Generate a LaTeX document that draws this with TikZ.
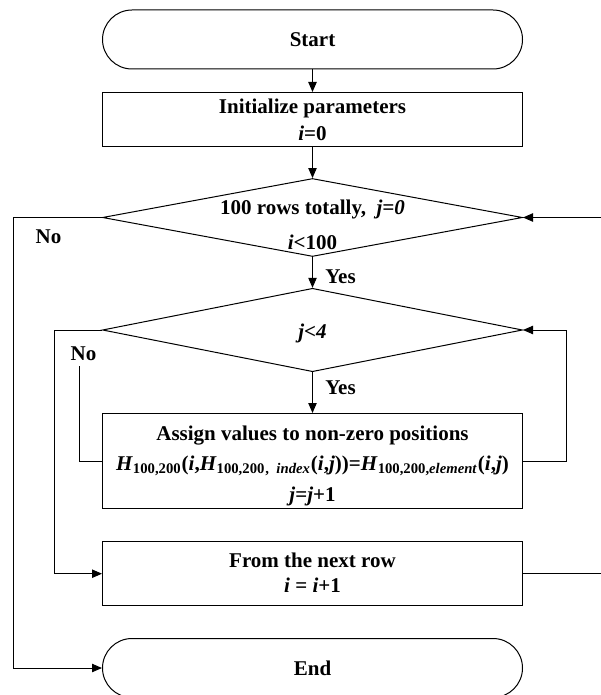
\documentclass[tikz,border=0pt]{standalone}
\usepackage{fontspec}
\setmainfont{Liberation Serif}
\usetikzlibrary{arrows.meta,shapes.geometric}

\begin{document}
\begin{tikzpicture}[x=0.5pt,y=-0.5pt,
  every node/.style={font=\fontsize{10.5}{13.5}\selectfont\bfseries},
  box/.style={draw, line width=0.5pt, minimum width=210pt, inner sep=0pt, align=center},
  term/.style={box, rounded corners=14.75pt, minimum height=29.5pt},
  decision/.style={draw, diamond, line width=0.5pt, minimum width=210pt, inner sep=0pt},
  flow/.style={line width=0.5pt, -{Triangle[length=5pt,width=4.2pt]}},
  link/.style={line width=0.5pt},
  lbl/.style={inner sep=0pt}
]
\useasboundingbox (0,0) rectangle (600,695);

% main column
\node[term] (start) at (312.5,39.5) {Start};
\node[box, minimum height=27pt] (init) at (312.5,119.5) {};
\node[lbl] (initA) at (312.5,108) {Initialize parameters};
\node[lbl] (initB) at (312.5,133.5) {\textit{i}=0};
\node[decision, minimum height=39pt] (rows) at (312.5,217.5) {};
\node[lbl] (rowsA) at (312.5,209) {100 rows totally,\ \ \textit{j=0}};
\node[lbl] (rowsB) at (312.5,242) {\textit{i}<100};
\node[decision, minimum height=41.7pt] (cols) at (312.5,330) {};
\node[lbl] (colsA) at (312.5,333) {\textit{j<4}};
\node[box, minimum height=47.5pt] (assign) at (312.5,461) {};
\node[lbl] (assignA) at (312.5,436) {Assign values to non-zero positions};
\node[lbl] (assignB) at (312.5,466)
  {\textit{H}\textsubscript{100,200}(\textit{i},\textit{H}\textsubscript{100,200}\textsubscript{,\,\,\,\textit{index}}(\textit{i},\textit{j}))=\textit{H}\textsubscript{100,200,\textit{element}}(\textit{i},\textit{j})};
\node[lbl] (assignC) at (312.5,496) {\textit{j}=\textit{j}+1};
\node[box, minimum height=32pt] (next) at (312.5,573.7) {};
\node[lbl] (nextA) at (312.5,560) {From the next row};
\node[lbl] (nextB) at (312.5,585) {\textit{i} = \textit{i}+1};
\node[term] (stop) at (312.5,668) {End};

% labels
\node[lbl] (yes1) at (340.5,277) {Yes};
\node[lbl] (yes2) at (340.5,388) {Yes};
\node[lbl] (no1) at (48.5,237) {No};
\node[lbl] (no2) at (83.5,354) {No};

% straight flow
\draw[flow] (start) -- (init);
\draw[flow] (init) -- (rows);
\draw[flow] (rows) -- (cols);
\draw[flow] (cols) -- (assign);

% inner loop back to the column test
\draw[flow] (assign.east) -- (566,461) |- (cols.east);
\coordinate (noEnd) at (79.6,366);
\draw[link] (assign.west) -| (noEnd);
% leaving the inner loop
\draw[flow] (cols.west) -- (54.7,330) |- (next.west);
% outer loop back to the row test
\draw[flow] (next.east) -- (602,573.7) |- (rows.east);
% leaving the outer loop
\draw[flow] (rows.west) -- (13.4,217.5) |- (stop.west);
\end{tikzpicture}
\end{document}
